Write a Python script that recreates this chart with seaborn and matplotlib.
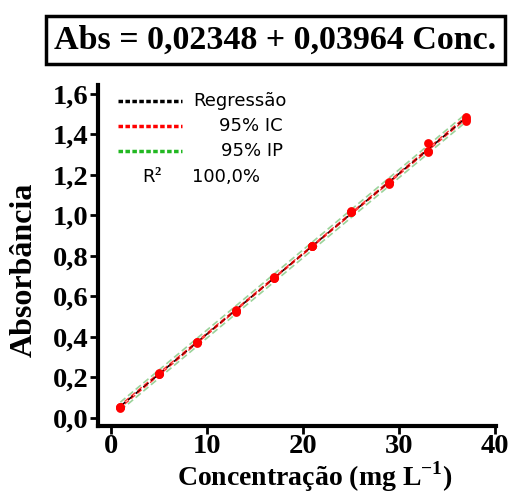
import numpy as np
import pandas as pd
import matplotlib
matplotlib.use('Agg')
import matplotlib.pyplot as plt
import seaborn as sns

# Calibration data (triplicates)
conc = [1, 1, 1, 5, 5, 5, 9, 9, 9, 13, 13, 13, 17, 17, 17,
        21, 21, 21, 25, 25, 25, 29, 29, 29, 33, 33, 33, 37, 37, 37]
absorb = [0.050, 0.052, 0.055, 0.215, 0.218, 0.220, 0.372, 0.374, 0.376,
          0.525, 0.530, 0.535, 0.690, 0.693, 0.696, 0.847, 0.849, 0.851,
          1.016, 1.019, 1.022, 1.155, 1.160, 1.165, 1.314, 1.318, 1.358,
          1.465, 1.475, 1.487]
title_text = 'Abs = 0,02348 + 0,03964 Conc.'
r2_text = '100,0%'
x_ticks = [0, 10, 20, 30, 40]
y_ticks = [0.0, 0.2, 0.4, 0.6, 0.8, 1.0, 1.2, 1.4, 1.6]

df = pd.DataFrame({'Conc': conc, 'Abs': absorb})

# regression with confidence and prediction intervals
x = df['Conc'].values
y = df['Abs'].values
n = len(x)
b1, b0 = np.polyfit(x, y, 1)
resid = y - (b0 + b1 * x)
s = np.sqrt(np.sum(resid ** 2) / (n - 2))
xg = np.linspace(min(x), max(x), 100)
yg = b0 + b1 * xg
sxx = np.sum((x - x.mean()) ** 2)
t = 2.048
ci = t * s * np.sqrt(1 / n + (xg - x.mean()) ** 2 / sxx)
pi = t * s * np.sqrt(1 + 1 / n + (xg - x.mean()) ** 2 / sxx)

sns.set_style('ticks')
serif = 'Liberation Serif'
plt.rcParams['mathtext.fontset'] = 'custom'
plt.rcParams['mathtext.rm'] = 'Liberation Serif:bold'
plt.rcParams['mathtext.bf'] = 'Liberation Serif:bold'
for key in ['text.color', 'axes.labelcolor', 'xtick.color', 'ytick.color',
            'axes.edgecolor']:
    plt.rcParams[key] = 'black'

fig = plt.figure(figsize=(5.14, 4.97), dpi=100)
ax = fig.add_axes([0.1907, 0.1429, 0.7743, 0.6861])

ax.plot(xg, yg + pi, color='#9ad39a', ls=(0, (4, 2)), lw=1.2)
ax.plot(xg, yg - pi, color='#9ad39a', ls=(0, (4, 2)), lw=1.2)
ax.plot(xg, yg, color='black', ls=(0, (4, 2)), lw=1.2)
ax.plot(xg, yg + ci, color='red', ls=(2, (4, 2)), lw=1.0, alpha=0.8)
ax.plot(xg, yg - ci, color='red', ls=(2, (4, 2)), lw=1.0, alpha=0.8)
sns.scatterplot(data=df, x='Conc', y='Abs', ax=ax, color='red', s=40,
                edgecolor='red', linewidth=0, zorder=5)

ax.set_xlim(-1.32, 40.1)
ax.set_ylim(-0.04, 1.644)
ax.set_xticks(x_ticks)
ax.set_yticks(y_ticks)
ax.set_xticklabels([str(v) for v in x_ticks])
ax.set_yticklabels([f'{v:.1f}'.replace('.', ',') for v in y_ticks])
for lab in ax.get_xticklabels() + ax.get_yticklabels():
    lab.set_fontfamily(serif)
    lab.set_fontweight('bold')
    lab.set_fontsize(20.5)
ax.tick_params(width=2, length=6, direction='out', pad=1, color='black',
               labelcolor='black')
ax.tick_params(axis='x', pad=0)
sns.despine(ax=ax)
for sp in ['left', 'bottom']:
    ax.spines[sp].set_linewidth(3)
    ax.spines[sp].set_color('black')

ax.set_xlabel('Concentração (mg L$^{-1}$)', fontfamily=serif,
              fontweight='bold', fontsize=20, va='bottom', color='black')
ax.xaxis.set_label_coords(0.545, -0.199)
ax.set_ylabel('Absorbância', fontfamily=serif, fontweight='bold',
              fontsize=23, va='center', color='black')
ax.yaxis.set_label_coords(-0.186, 0.459)

# legend drawn by hand
rows = [('black', 'Regressão', 0.954), ('red', '95% IC', 0.879),
        ('#22b822', '95% IP', 0.806)]
for col, txt, yy in rows:
    ax.plot([0.05, 0.21], [yy, yy], transform=ax.transAxes, color=col,
            ls=(0, (1.3, 0.7)), lw=2.5)
for col, txt, yy in rows:
    if txt == 'Regressão':
        ax.text(0.24, yy, txt, transform=ax.transAxes, fontsize=13,
                va='center', ha='left', fontfamily='DejaVu Sans')
    else:
        ax.text(0.465, yy, txt, transform=ax.transAxes, fontsize=13,
                va='center', ha='right', fontfamily='DejaVu Sans')
ax.text(0.11, 0.729, 'R$^2$', transform=ax.transAxes, fontsize=13,
        va='center', ha='left', fontfamily='DejaVu Sans')
ax.text(0.235, 0.729, r2_text, transform=ax.transAxes, fontsize=13,
        va='center', ha='left', fontfamily='DejaVu Sans')

fig.text(0.536, 0.92, title_text, fontfamily=serif, fontweight='bold',
         fontsize=24.5, ha='center', va='center', color='black',
         bbox=dict(boxstyle='square,pad=0.25', fc='white', ec='black', lw=2.5))

fig.savefig('out.png', dpi=100)
